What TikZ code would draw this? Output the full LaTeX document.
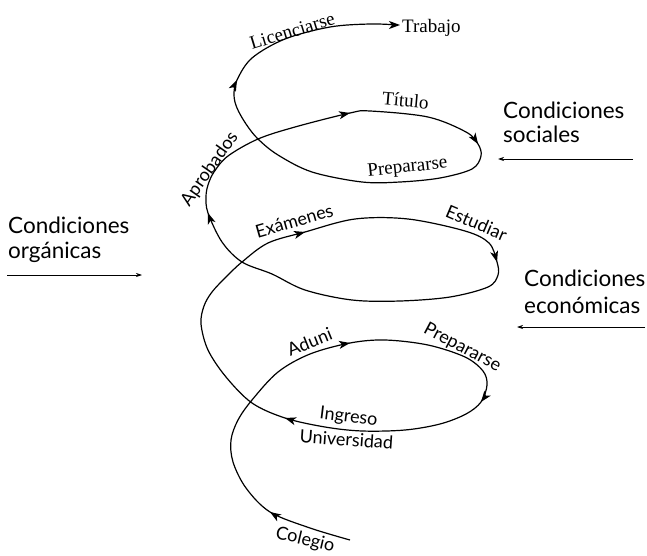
\documentclass[tikz,border=0pt]{standalone}
\usepackage{fontspec}
\setmainfont{Lato}
\newfontfamily\serifA{Liberation Serif}
\usetikzlibrary{arrows.meta}
\begin{document}
\begin{tikzpicture}[x=1pt,y=-1pt,
  spiral/.style={line width=1.2pt},
  tipA/.style={-{Stealth[length=11pt,width=8pt,inset=3pt]}, line width=1.2pt},
  side/.style={line width=0.7pt,-{Stealth[length=6pt,width=4pt]}},
  cond/.style={anchor=base west, inner sep=0pt, font=\fontsize{22.5}{25}\selectfont},
  lab/.style={anchor=base, inner sep=0pt, font=\fontsize{18}{20}\selectfont},
  slab/.style={anchor=base, inner sep=0pt, font=\serifA\fontsize{19}{20}\selectfont}]
\useasboundingbox (0,0) rectangle (647,556);
% spiral way points
\coordinate (s) at (350,540);
\coordinate (c1) at (310,528);
\coordinate (a1) at (270,512);
\coordinate (c2) at (246,488);
\coordinate (c3) at (233,462);
\coordinate (c4) at (231,440);
\coordinate (c5) at (238,420);
\coordinate (x1) at (252,400);
\coordinate (c6) at (278,372);
\coordinate (c7) at (310,354);
\coordinate (a2) at (350,343);
\coordinate (c8) at (385,340);
\coordinate (c9) at (428,345);
\coordinate (c10) at (465,357);
\coordinate (c11) at (483,371);
\coordinate (c12) at (487,385);
\coordinate (a3) at (481,402);
\coordinate (c13) at (466,414);
\coordinate (c14) at (440,424);
\coordinate (c15) at (405,430);
\coordinate (c16) at (362,431);
\coordinate (c17) at (325,427);
\coordinate (a4) at (285,418);
\coordinate (x1b) at (252,403);
\coordinate (c19) at (226,377);
\coordinate (c20) at (208,350);
\coordinate (c21) at (201,324);
\coordinate (c22) at (204,306);
\coordinate (c23) at (212,292);
\coordinate (c24) at (226,277);
\coordinate (x2) at (242,262);
\coordinate (c25) at (268,243);
\coordinate (a5) at (305,232);
\coordinate (c26) at (355,219);
\coordinate (c27) at (408,219);
\coordinate (c28) at (465,231);
\coordinate (c29) at (489,243);
\coordinate (a6) at (497,262);
\coordinate (c30) at (498,275);
\coordinate (c31) at (488,287);
\coordinate (c32) at (450,297);
\coordinate (c33) at (400,301);
\coordinate (c34) at (352,300);
\coordinate (c35) at (305,290);
\coordinate (c36) at (272,274);
\coordinate (x2b) at (242,262);
\coordinate (c37) at (222,242);
\coordinate (a7) at (208,213);
\coordinate (c38) at (206,197);
\coordinate (c39) at (208,185);
\coordinate (c40) at (214,172);
\coordinate (c41) at (228,156);
\coordinate (x3) at (258,139);
\coordinate (c42) at (295,127);
\coordinate (a8) at (350,113);
\coordinate (c43) at (370,111);
\coordinate (c44) at (428,117);
\coordinate (c45) at (466,132);
\coordinate (a9) at (478,144);
\coordinate (c46) at (481,156);
\coordinate (c47) at (472,169);
\coordinate (c48) at (440,178);
\coordinate (c49) at (400,182);
\coordinate (c50) at (362,182);
\coordinate (c51) at (312,172);
\coordinate (c52) at (278,155);
\coordinate (x3b) at (258,139);
\coordinate (c53) at (246,124);
\coordinate (c54) at (237,108);
\coordinate (c55) at (234,95);
\coordinate (a10) at (237,80);
\coordinate (c56) at (252,58);
\coordinate (c57) at (285,39);
\coordinate (c58) at (330,27);
\coordinate (c59) at (370,24);
\coordinate (a11) at (398,25);
% the spiral
\draw[spiral] plot[smooth, tension=0.55] coordinates {(s) (c1) (a1) (c2) (c3) (c4) (c5) (x1) (c6) (c7) (a2) (c8) (c9) (c10) (c11) (c12) (a3) (c13) (c14) (c15) (c16) (c17) (a4) (x1b) (c19) (c20) (c21) (c22) (c23) (c24) (x2) (c25) (a5) (c26) (c27) (c28) (c29) (a6) (c30) (c31) (c32) (c33) (c34) (c35) (c36) (x2b) (c37) (a7) (c38) (c39) (c40) (c41) (x3) (c42) (a8) (c43) (c44) (c45) (a9) (c46) (c47) (c48) (c49) (c50) (c51) (c52) (x3b) (c53) (c54) (c55) (a10) (c56) (c57) (c58) (c59) (a11)};
% arrow heads along the spiral
\coordinate (b1) at (272.5,513.6);
\coordinate (b2) at (347.1,343.5);
\coordinate (b3) at (482.8,399.6);
\coordinate (b4) at (287.9,418.9);
\coordinate (b5) at (302.1,232.8);
\coordinate (b6) at (496.2,259.1);
\coordinate (b7) at (209,215.8);
\coordinate (b8) at (347.1,113.6);
\coordinate (b9) at (476.4,141.5);
\coordinate (b10) at (235.7,82.7);
\coordinate (b11) at (395,25);
\coordinate (e11) at (400,25);
\draw[tipA] (b1) -- (a1);
\draw[tipA] (b2) -- (a2);
\draw[tipA] (b3) -- (a3);
\draw[tipA] (b4) -- (a4);
\draw[tipA] (b5) -- (a5);
\draw[tipA] (b6) -- (a6);
\draw[tipA] (b7) -- (a7);
\draw[tipA] (b8) -- (a8);
\draw[tipA] (b9) -- (a9);
\draw[tipA] (b10) -- (a10);
\draw[tipA] (b11) -- (e11);
% labels along the spiral
\node[slab, rotate=17] (licenciarse) at (294,37) {Licenciarse};
\node[slab, anchor=base west] (trabajo) at (402,33) {Trabajo};
\node[slab, rotate=-5] (titulo) at (405,107) {Título};
\node[slab, rotate=6] (prep1) at (408,172) {Prepararse};
\node[lab, rotate=55] (aprobados) at (214,172) {Aprobados};
\node[lab, rotate=16] (examenes) at (296,227) {Exámenes};
\node[lab, rotate=-23] (estudiar) at (474,229) {Estudiar};
\node[lab, rotate=22] (aduni) at (312,348) {Aduni};
\node[lab, rotate=-28] (prep2) at (460,352) {Prepararse};
\node[lab, rotate=-7] (ingreso) at (348,422) {Ingreso};
\node[lab, rotate=-4] (universidad) at (346,446) {Universidad};
\node[lab, rotate=-13] (colegio) at (304,545) {Colegio};
% conditions
\node[cond] (co1) at (8,233) {Condiciones};
\node[cond] (co2) at (8,258) {orgánicas};
\coordinate (oL) at (7,275);
\coordinate (oR) at (142,275);
\draw[side] (oL) -- (oR);
\node[cond] (cs1) at (503,119) {Condiciones};
\node[cond] (cs2) at (503,143) {sociales};
\coordinate (sR) at (633,159);
\coordinate (sL) at (498,159);
\draw[side] (sR) -- (sL);
\node[cond] (ce1) at (524,286) {Condiciones};
\node[cond] (ce2) at (524,313) {económicas};
\coordinate (eR) at (645,327);
\coordinate (eL) at (517,327);
\draw[side] (eR) -- (eL);
\end{tikzpicture}
\end{document}
